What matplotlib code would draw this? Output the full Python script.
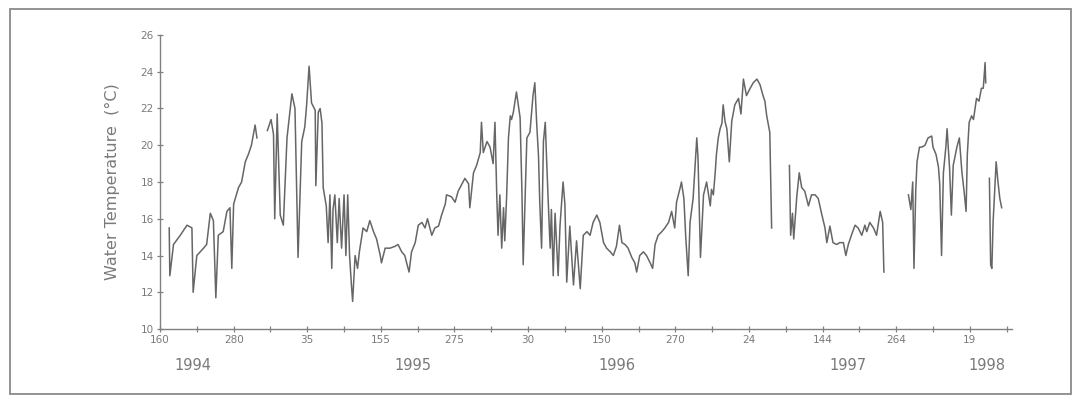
import numpy as np
import matplotlib
matplotlib.use("Agg")
import matplotlib.pyplot as plt
from matplotlib.patches import Rectangle
from matplotlib.transforms import blended_transform_factory

nan = np.nan

# days counted from day 160 of 1994; NaN marks gaps in the record
day = [15, 16, 22, 33, 44, 52, 54, 60, 71, 76, 82, 87, 91, 95, 103, 109, 114, 117, 120,
       128, 133, 139, 144, 149, 155, 158, 166,
       175, 181, 185, 187, 191, 196, 201, 207, 215, 220, 225, 231, 236,
       239, 243, 247, 253, 254, 258, 261, 264, 266, 271, 274, 277, 280, 282, 285, 289,
       292, 296, 300, 303, 306, 309, 312, 314, 318, 322, 325, 331, 337, 342, 348, 353,
       359, 361, 367, 375, 383, 388, 394, 399, 402, 406, 410, 416, 421, 427, 432, 436,
       443, 448, 454, 459, 465,
       467, 475, 481, 486, 497, 503, 505, 511, 516, 522, 524, 527, 533, 538, 543, 546,
       549, 551, 554, 557, 560, 562, 565, 568, 571, 573, 576, 581, 584, 587, 590, 592,
       598, 603, 608, 611, 614, 617, 619, 622, 625, 628, 630, 633, 636, 638, 641, 644,
       649, 652, 657, 660, 663, 668, 674, 679, 685, 690,
       696, 701, 706, 712, 717, 723, 728, 734, 739, 744, 749, 753, 758, 763, 769, 774,
       777, 782, 788, 793, 799, 803, 807, 812, 818, 823, 829, 834, 839, 842, 848, 850,
       854, 857, 861, 864, 869, 875, 877, 881, 886, 891, 897, 899, 902, 905, 907, 910, 913,
       916, 918, 921, 924, 928, 932, 937, 943, 947, 951, 956, 962, 967, 973, 978, 983,
       986, 989, 994, 997, 1010,
       1026, 1028, 1031, 1033, 1038, 1042, 1046, 1051, 1057, 1062, 1068, 1073, 1079,
       1084, 1087, 1092, 1097, 1103, 1108, 1114, 1118, 1122, 1127, 1133, 1138, 1144, 1149,
       1152, 1157, 1163, 1168, 1174, 1178, 1180, 1200,
       1220, 1224, 1227, 1229, 1232, 1234, 1238, 1242, 1247, 1252, 1258, 1260, 1265, 1269,
       1271, 1274, 1277, 1281, 1283, 1287, 1290, 1293, 1299, 1303, 1307, 1311, 1314, 1316,
       1319, 1323, 1326, 1331, 1335, 1339, 1342, 1345, 1346, 1349,
       1352, 1354, 1356, 1358, 1363, 1366, 1369, 1372]

temp = [15.5, 12.9, 14.6, 15.1, 15.65, 15.5, 12.0, 14.0, 14.4, 14.6, 16.3, 15.9, 11.7, 15.1,
        15.3, 16.4, 16.6, 13.3, 16.8, 17.7, 18.0, 19.1, 19.5, 20.0, 21.1, 20.4, nan,
        20.8, 21.4, 20.6, 16.0, 21.7, 16.2, 15.65, 20.4, 22.8, 22.0, 13.9, 20.2, 21.0,
        22.2, 24.3, 22.3, 21.9, 17.8, 21.8, 22.0, 21.2, 17.7, 16.7, 14.7, 17.3, 13.3, 16.5,
        17.3, 14.7, 17.1, 14.4, 17.3, 14.0, 17.3, 14.0, 12.4, 11.5, 14.0, 13.3, 14.2, 15.5,
        15.3, 15.9, 15.3, 14.9, 14.0, 13.6, 14.4, 14.4, 14.5, 14.6, 14.2, 14.0, 13.6, 13.1,
        14.2, 14.7, 15.65, 15.8, 15.5, 16.0, 15.1, 15.5, 15.6, 16.2, 16.8,
        17.3, 17.2, 16.9, 17.5, 18.2, 17.9, 16.6, 18.5, 18.9, 19.6, 21.25, 19.6, 20.2, 19.9,
        19.0, 21.25, 17.2, 15.1, 17.3, 14.4, 16.6, 14.8, 17.2, 20.4, 21.6, 21.4, 21.8, 22.9,
        22.2, 21.5, 17.4, 13.5, 20.4, 20.7, 22.7, 23.4, 21.2, 19.4, 16.9, 14.4, 20.2, 21.25,
        19.4, 16.8, 14.4, 16.5, 12.9, 16.3, 12.9, 15.6, 18.0, 16.8, 12.55, 15.6, 12.4, 14.8,
        12.2, 15.1,
        15.3, 15.1, 15.8, 16.2, 15.8, 14.7, 14.4, 14.2, 14.0, 14.5, 15.65, 14.7, 14.6, 14.4,
        13.9, 13.6, 13.1, 14.0, 14.2, 14.0, 13.6, 13.3, 14.6, 15.1, 15.3, 15.5, 15.8, 16.4,
        15.5, 16.9, 17.7, 18.0, 17.1, 15.0, 12.9, 15.8, 17.1, 20.4, 19.3, 13.9, 17.3, 18.0,
        16.7, 17.6, 17.3, 18.5, 19.5, 20.4, 20.9,
        21.2, 22.2, 21.3, 20.9, 19.1, 21.3, 22.2, 22.55, 21.7, 23.6, 22.7, 23.1, 23.4, 23.6,
        23.3, 22.7, 22.4, 21.6, 20.7, 15.5, nan,
        18.9, 15.1, 16.3, 14.9, 17.2, 18.5, 17.7, 17.5, 16.7, 17.3, 17.3, 17.1, 16.2, 15.5,
        14.7, 15.6, 14.7, 14.6, 14.7, 14.7, 14.0, 14.6, 15.1, 15.65, 15.5, 15.1, 15.65,
        15.3, 15.8, 15.5, 15.1, 16.4, 15.8, 13.1, nan,
        17.3, 16.5, 18.0, 13.3, 17.6, 19.1, 19.9, 19.9, 20.0, 20.4, 20.5, 19.9, 19.5, 18.8,
        17.9, 14.0, 18.5, 19.9, 20.9, 18.8, 16.2, 18.9, 19.9, 20.4, 18.6, 17.4, 16.4, 19.5,
        21.25, 21.6, 21.4, 22.55, 22.4, 23.1, 23.1, 24.5, 23.4, nan,
        18.2, 13.5, 13.3, 15.8, 19.1, 18.0, 17.1, 16.6]

major_ticks = [0, 120, 240, 360, 480, 600, 720, 840, 960, 1080, 1200, 1320]
major_labels = ["160", "280", "35", "155", "275", "30", "150", "270", "24", "144", "264", "19"]
minor_ticks = [60, 180, 300, 420, 540, 660, 780, 900, 1020, 1140, 1260, 1380]
year_labels = ["1994", "1995", "1996", "1997", "1998"]
year_pos = [54, 412, 745, 1121, 1348]
y_ticks = [10, 12, 14, 16, 18, 20, 22, 24, 26]

grey = "#666666"
text_grey = "#7a7a7a"

fig = plt.figure(figsize=(10.79, 3.99), dpi=100)
ax = fig.add_axes([0.1483, 0.1754, 0.7897, 0.7369])

ax.plot(day, temp, color=grey, lw=1.1)

ax.set_xlim(0, 1389)
ax.set_ylim(10, 26)
for s in ["top", "right"]:
    ax.spines[s].set_visible(False)
for s in ["left", "bottom"]:
    ax.spines[s].set_color("#808080")
    ax.spines[s].set_linewidth(1.0)

ax.set_yticks(y_ticks)
ax.set_yticklabels([str(v) for v in y_ticks])
ax.set_xticks(major_ticks)
ax.set_xticklabels(major_labels)
ax.set_xticks(minor_ticks, minor=True)
ax.tick_params(axis="both", which="both", direction="inout", length=5, width=0.9,
               color="#808080", labelcolor=text_grey, labelsize=7.5, pad=2)

ax.set_ylabel("Water Temperature  (\u00b0C)", color=text_grey, fontsize=11.5)
ax.yaxis.set_label_coords(-0.047, 0.5)

trans = blended_transform_factory(ax.transData, fig.transFigure)
for lab, pos in zip(year_labels, year_pos):
    ax.text(pos, 1 - 366 / 399, lab, transform=trans, ha="center", va="center",
            fontsize=10.5, color=text_grey)

fig.patches.append(Rectangle((10 / 1079, 1 - 394 / 399), (1071 - 10) / 1079,
                             (394 - 9) / 399, transform=fig.transFigure,
                             fill=False, edgecolor="#8a8a8a", lw=1.3))

fig.savefig("out.png", dpi=100)
